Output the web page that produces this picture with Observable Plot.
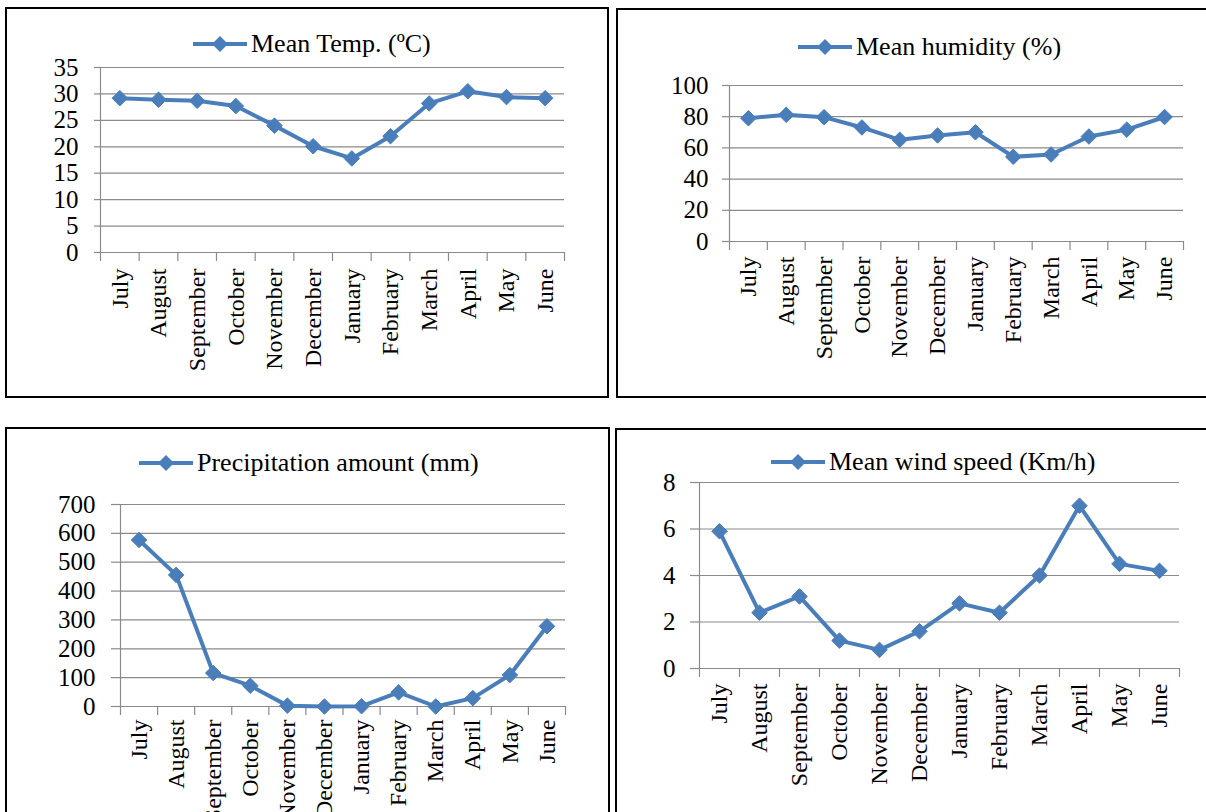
<!DOCTYPE html>
<html><head><meta charset="utf-8">
<script src="https://cdn.jsdelivr.net/npm/d3@7"></script>
<script src="https://cdn.jsdelivr.net/npm/@observablehq/plot@0.6"></script>
<style>
html,body{margin:0;padding:0;background:#fff;}
body{width:1206px;height:812px;position:relative;overflow:hidden;font-family:"Liberation Serif","Times New Roman",serif;}
.panel{position:absolute;border:2px solid #000;box-sizing:border-box;}
.legend{position:absolute;display:flex;align-items:center;height:32px;font-size:26px;white-space:nowrap;color:#000;}
.legend svg{margin-right:4px;}
.chart{position:absolute;}
</style></head><body>
<script>
// ---- data ----
const months = ["July","August","September","October","November","December","January","February","March","April","May","June"];
const tempValues = [29.2, 28.9, 28.7, 27.7, 24.0, 20.1, 17.8, 22.0, 28.2, 30.5, 29.4, 29.2];
const humidityValues = [79, 81.2, 79.7, 73.1, 65.2, 68, 70, 54.3, 55.8, 67.3, 71.7, 79.8];
const precipValues = [577, 456, 116, 72, 3, 0, 1, 49, 0, 29, 109, 278];
const windValues = [5.9, 2.4, 3.1, 1.2, 0.8, 1.6, 2.8, 2.4, 4.0, 7.0, 4.5, 4.2];
const tempTicks = [0, 5, 10, 15, 20, 25, 30, 35];
const humidityTicks = [0, 20, 40, 60, 80, 100];
const precipTicks = [0, 100, 200, 300, 400, 500, 600, 700];
const windTicks = [0, 2, 4, 6, 8];
const titles = ["Mean Temp. (\u00BAC)", "Mean humidity (%)", "Precipitation amount (mm)", "Mean wind speed (Km/h)"];

// ---- styling / layout ----
const lineColor = "#4A7EBB";
const gridColor = "#8A8A8A";
const fontFamily = "'Liberation Serif','Times New Roman',serif";

const diamond = {draw(ctx, size) {
  const r = Math.sqrt(size) * 0.62625;
  ctx.moveTo(0, -r); ctx.lineTo(r, 0); ctx.lineTo(0, r); ctx.lineTo(-r, 0); ctx.closePath();
}};

const panels = [
  {title: titles[0], values: tempValues, ticks: tempTicks,
   box: [5, 7, 604, 391], legend: [193, 28],
   svg: [8, 55, 596, 335], margin: [12, 40, 138, 92], ySize: 6, yPad: 16, gap: 16},
  {title: titles[1], values: humidityValues, ticks: humidityTicks,
   box: [616, 8, 620, 390], legend: [798, 31],
   svg: [620, 70, 586, 322], margin: [15, 23, 151, 109], ySize: 7, yPad: 14, gap: 15},
  {title: titles[2], values: precipValues, ticks: precipTicks,
   box: [5, 427, 605, 420], legend: [139, 447],
   svg: [8, 490, 598, 322], margin: [14, 41, 106, 112], ySize: 9, yPad: 16, gap: 13},
  {title: titles[3], values: windValues, ticks: windTicks,
   box: [615, 428, 620, 420], legend: [771, 446],
   svg: [620, 468, 586, 344], margin: [14, 27, 144, 79], ySize: 9, yPad: 15, gap: 15}
];

function swatch() {
  const ns = "http://www.w3.org/2000/svg";
  const s = document.createElementNS(ns, "svg");
  s.setAttribute("width", 54); s.setAttribute("height", 20);
  s.innerHTML = `<line x1="0" y1="10" x2="54" y2="10" stroke="${lineColor}" stroke-width="4"/>
    <path d="M27,2 L35,10 L27,18 L19,10 Z" fill="${lineColor}"/>`;
  return s;
}

function makeChart(p) {
  const n = months.length;
  const data = months.map((m, i) => ({i, v: p.values[i]}));
  const edges = d3.range(n + 1).map(k => k - 0.5);
  const [mt, mr, mb, ml] = p.margin;
  return Plot.plot({
    width: p.svg[2], height: p.svg[3],
    marginTop: mt, marginRight: mr, marginBottom: mb, marginLeft: ml,
    style: {fontFamily, fontSize: "25px", color: "#000", background: "transparent", overflow: "visible"},
    x: {type: "linear", domain: [-0.5, n - 0.5], label: null},
    y: {domain: [p.ticks[0], p.ticks[p.ticks.length - 1]], label: null},
    marks: [
      Plot.gridY(p.ticks, {stroke: gridColor, strokeOpacity: 1, strokeWidth: 1.2}),
      Plot.ruleX([-0.5], {stroke: gridColor, strokeWidth: 1.2}),
      Plot.axisY({ticks: p.ticks, tickSize: p.ySize, tickPadding: p.yPad, stroke: gridColor, strokeWidth: 1.2, label: null, fontSize: 25}),
      Plot.axisX({ticks: edges, tickSize: 9, tickFormat: () => "", stroke: gridColor, strokeWidth: 1.2, label: null}),
      Plot.axisX({ticks: d3.range(n), tickSize: 0, tickPadding: p.gap, tickRotate: -90, tickFormat: i => months[i], label: null, fontSize: 24}),
      Plot.lineY(data, {x: "i", y: "v", stroke: lineColor, strokeWidth: 4, strokeLinejoin: "round"}),
      Plot.dot(data, {x: "i", y: "v", symbol: diamond, r: 7, fill: lineColor, stroke: lineColor, strokeWidth: 1})
    ]
  });
}

for (const p of panels) {
  const box = document.createElement("div");
  box.className = "panel";
  Object.assign(box.style, {left: p.box[0] + "px", top: p.box[1] + "px", width: p.box[2] + "px", height: p.box[3] + "px"});
  document.body.appendChild(box);

  const wrap = document.createElement("div");
  wrap.className = "chart";
  Object.assign(wrap.style, {left: p.svg[0] + "px", top: p.svg[1] + "px"});
  wrap.appendChild(makeChart(p));
  document.body.appendChild(wrap);

  const lg = document.createElement("div");
  lg.className = "legend";
  Object.assign(lg.style, {left: p.legend[0] + "px", top: p.legend[1] + "px"});
  lg.appendChild(swatch());
  const t = document.createElement("span");
  t.textContent = p.title;
  lg.appendChild(t);
  document.body.appendChild(lg);
}
</script>
</body></html>
